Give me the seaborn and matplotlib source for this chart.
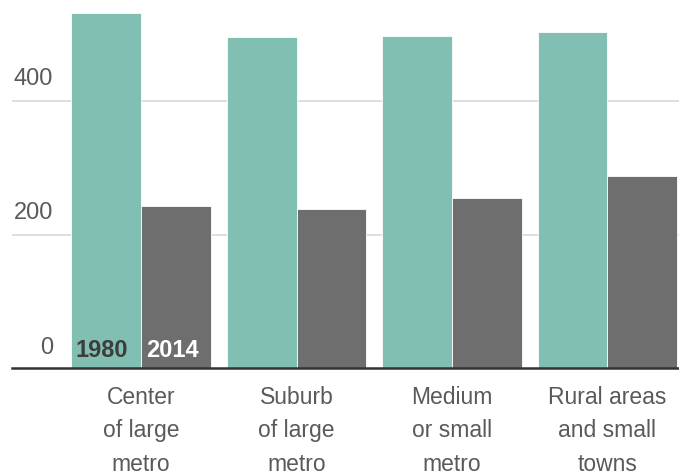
import matplotlib
matplotlib.use("Agg")
import pandas as pd
import numpy as np
import matplotlib.pyplot as plt
import seaborn as sns

# data
areas = ["Center\nof large\nmetro", "Suburb\nof large\nmetro", "Medium\nor small\nmetro", "Rural areas\nand small\ntowns"]
years = ["1980", "2014"]
v1980 = [532, 496, 497, 503]
v2014 = [243, 238, 255, 288]

df = pd.DataFrame({
    "area": areas * 2,
    "year": ["1980"] * 4 + ["2014"] * 4,
    "value": v1980 + v2014,
})

sns.set_style("white")
plt.rcParams['font.family'] = ['Liberation Sans Narrow', 'Liberation Sans', 'DejaVu Sans']

fig = plt.figure(figsize=(6.79, 4.77), dpi=100)
ax = fig.add_axes([12/679, 108/477, 667/679, 369/477])

pal = {"1980": "#80bfb1", "2014": "#6e6e6e"}
sns.barplot(data=df, x="area", y="value", hue="year", palette=pal, width=0.9,
            saturation=1, legend=False, ax=ax, edgecolor="white", linewidth=0.6)

ax.set_xlim(-0.83, 3.46)
ax.set_ylim(0, 553)
ax.set_xlabel("")
ax.set_ylabel("")

for y in [200, 400]:
    ax.axhline(y, color="#d9d9d9", lw=1.2, zorder=0)
ax.set_yticks([])
for y in [0, 200, 400]:
    ax.text(41/667, y + (18 if y else 15), str(y), transform=ax.get_yaxis_transform(),
            ha="right", va="bottom", fontsize=17, color="#5a5a5a")

for s in ["top", "right", "left"]:
    ax.spines[s].set_visible(False)
ax.spines["bottom"].set_color("#333333")
ax.spines["bottom"].set_linewidth(1.8)
ax.tick_params(axis="x", length=5, width=1.2, color="#333333", pad=7,
               labelsize=16.5, labelcolor="#5a5a5a")
for lab in ax.get_xticklabels():
    lab.set_linespacing(1.6)

# inline legend in the first group
ax.text(-0.25, 10, "1980", ha="center", va="bottom", fontsize=17, fontweight="bold", color="#3d3d3d")
ax.text(0.2, 10, "2014", ha="center", va="bottom", fontsize=17, fontweight="bold", color="white")

fig.savefig("out.png", dpi=100)
